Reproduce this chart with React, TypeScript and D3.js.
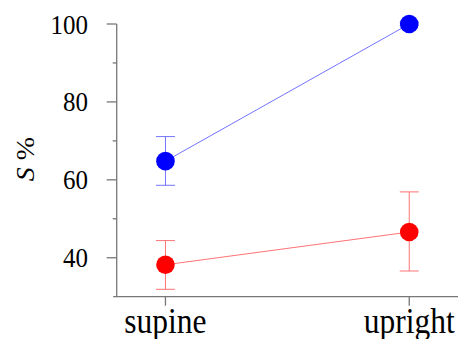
import React from "react";
import * as d3 from "d3";

const categories = ["supine", "upright"];
const blueMean = [64.8, 100];
const blueLow = [58.6, 99.6];
const blueHigh = [71.1, 100.4];
const redMean = [38.2, 46.6];
const redLow = [31.9, 36.6];
const redHigh = [44.4, 56.9];
const majorTicks = [40, 60, 80, 100];
const minorTicks = [50, 70, 90];

const W = 458;
const H = 339;
const axisX = 116.7;
const axisY = 296.7;
const axisColor = "#777";
const FONT = "Liberation Serif";
const STRETCH = 1.12;

export default function App() {
  const y = d3.scaleLinear().domain([30, 100]).range([axisY, 24]);
  const x = d3.scalePoint<string>().domain(categories).range([axisX, W]).padding(0.2);

  const series = [
    { mean: blueMean, low: blueLow, high: blueHigh, dot: "#0000ff", light: "#7373ff" },
    { mean: redMean, low: redLow, high: redHigh, dot: "#ff0000", light: "#ff7373" },
  ];

  const line = d3
    .line<number>()
    .x((_, i) => x(categories[i]) as number)
    .y((d) => y(d));

  const textStyle = { fontFamily: FONT };

  return (
    <svg
      width={W}
      height={H}
      style={{ position: "absolute", left: 0, top: 0, display: "block", background: "#fff" }}
    >
      <line x1={axisX} x2={axisX} y1={y(100)} y2={axisY} stroke={axisColor} strokeWidth={1.3} />
      <line x1={axisX - 3.5} x2={W} y1={axisY} y2={axisY} stroke={axisColor} strokeWidth={1.3} />
      {majorTicks.map((t) => (
        <g key={"M" + t}>
          <line x1={axisX - 10} x2={axisX} y1={y(t)} y2={y(t)} stroke={axisColor} strokeWidth={1.3} />
          <text
            transform={`translate(${88},${y(t)}) scale(1,${STRETCH})`}
            textAnchor="end"
            dy="0.34em"
            style={textStyle}
            fontSize={25}
            fill="#000"
          >
            {t}
          </text>
        </g>
      ))}
      {minorTicks.map((t) => (
        <line key={"m" + t} x1={axisX - 4} x2={axisX} y1={y(t)} y2={y(t)} stroke={axisColor} strokeWidth={1.3} />
      ))}
      {categories.map((c) => (
        <g key={c}>
          <line x1={x(c)} x2={x(c)} y1={axisY} y2={axisY + 9} stroke={axisColor} strokeWidth={1.3} />
          <text
            transform={`translate(${x(c)},${333}) scale(1,${STRETCH})`}
            textAnchor="middle"
            style={textStyle}
            fontSize={31.5}
            fill="#000"
          >
            {c}
          </text>
        </g>
      ))}
      <text
        transform={`translate(34,159) rotate(-90) scale(${STRETCH},1)`}
        textAnchor="middle"
        style={textStyle}
        fontSize={25}
        fill="#000"
      >
        <tspan fontStyle="italic">S</tspan>
        <tspan> %</tspan>
      </text>

      {series.map((s, si) => (
        <g key={si}>
          <path d={line(s.mean) || ""} fill="none" stroke={s.light} strokeWidth={1} />
          {categories.map((c, i) => {
            const cx = x(c) as number;
            return (
              <g key={c}>
                <line x1={cx} x2={cx} y1={y(s.low[i])} y2={y(s.high[i])} stroke={s.light} strokeWidth={1} />
                <line x1={cx - 9.5} x2={cx + 9.5} y1={y(s.low[i])} y2={y(s.low[i])} stroke={s.light} strokeWidth={1} />
                <line x1={cx - 9.5} x2={cx + 9.5} y1={y(s.high[i])} y2={y(s.high[i])} stroke={s.light} strokeWidth={1} />
                <circle cx={cx} cy={y(s.mean[i])} r={9.3} fill={s.dot} />
              </g>
            );
          })}
        </g>
      ))}
    </svg>
  );
}
